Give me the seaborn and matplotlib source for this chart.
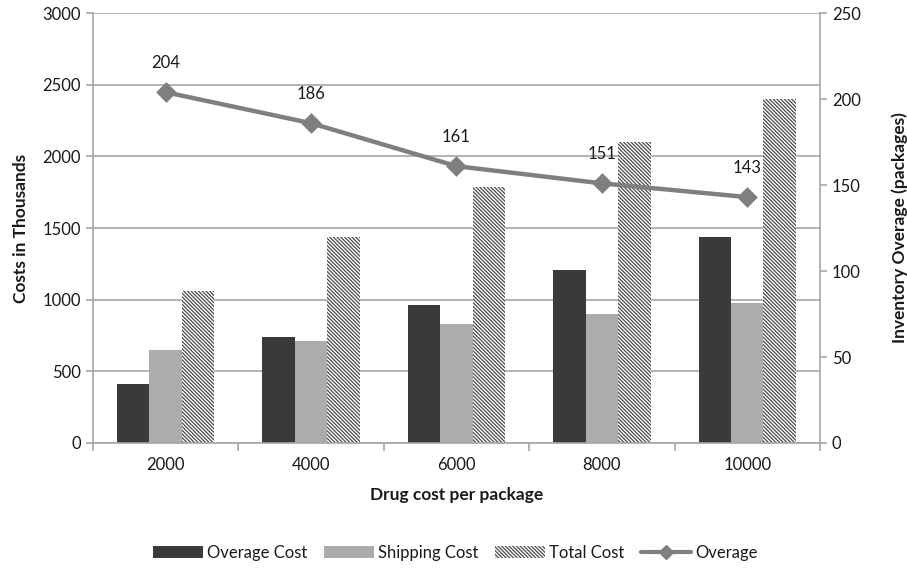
import matplotlib
matplotlib.use("Agg")
import matplotlib.pyplot as plt
from matplotlib.lines import Line2D
from matplotlib.patches import Patch
import seaborn as sns
import pandas as pd
import numpy as np

# Data
drug_cost = ["2000", "4000", "6000", "8000", "10000"]
overage_cost = [410, 740, 965, 1210, 1435]
shipping_cost = [650, 710, 830, 900, 980]
total_cost = [1060, 1440, 1790, 2100, 2400]
overage_packages = [204, 186, 161, 151, 143]

series_names = ["Overage Cost", "Shipping Cost", "Total Cost"]

sns.set_theme(style="white")
plt.rcParams["font.family"] = ["Lato", "DejaVu Sans"]
plt.rcParams["hatch.linewidth"] = 0.9

DARK = "#3a3a3a"
LIGHT = "#acacac"
LINE = "#7f7f7f"
GRID = "#a6a6a6"
TXT = "#1a1a1a"
HATCH = "\\" * 9

bars = pd.DataFrame({
    "drug": drug_cost * 3,
    "series": [s for s in series_names for _ in drug_cost],
    "cost": overage_cost + shipping_cost + total_cost,
})
line_df = pd.DataFrame({"drug": drug_cost, "overage": overage_packages})

fig = plt.figure(figsize=(9.07, 5.71), dpi=100)
ax = fig.add_axes([0.1025, 0.2242, 0.8015, 0.7528])

sns.barplot(data=bars, x="drug", y="cost", hue="series", order=drug_cost,
            hue_order=series_names, palette=[DARK, LIGHT, "white"],
            width=0.67, saturation=1, linewidth=0, ax=ax, legend=False)

for patch in ax.containers[2]:
    patch.set_facecolor("white")
    patch.set_edgecolor("#4a4a4a")
    patch.set_hatch(HATCH)
    patch.set_linewidth(0)

ax.set_ylim(0, 3000)
ax.set_yticks(np.arange(0, 3001, 500))
ax.set_xlim(-0.5, 4.5)
ax.grid(axis="y", color=GRID, linewidth=1.2)
ax.set_axisbelow(True)
for side in ["top", "right"]:
    ax.spines[side].set_visible(False)
for side in ["left", "bottom"]:
    ax.spines[side].set_color(GRID)
    ax.spines[side].set_linewidth(1.2)

ax.tick_params(axis="y", which="major", direction="out", length=5, width=1.2,
               color=GRID, labelsize=12, labelcolor=TXT, left=True)
ax.tick_params(axis="x", which="major", length=0, labelsize=12,
               labelcolor=TXT, pad=10)
ax.set_xticks(np.arange(-0.5, 5, 1.0), minor=True)
ax.tick_params(axis="x", which="minor", direction="out", length=6, width=1.2,
               color=GRID, bottom=True)

ax.set_xlabel("Drug cost per package", fontsize=12.5, fontweight="bold",
              color=TXT, labelpad=10)
ax.set_ylabel("Costs in Thousands", fontsize=12.5, fontweight="bold",
              color=TXT, labelpad=10)

ax2 = ax.twinx()
sns.pointplot(data=line_df, x="drug", y="overage", order=drug_cost,
              color=LINE, markers="D", markersize=8, linewidth=3.2, ax=ax2)
ax2.set_xlim(-0.5, 4.5)
ax2.set_ylim(0, 250)
ax2.set_yticks(np.arange(0, 251, 50))
ax2.set_xlabel("")
for side in ["top", "left", "bottom"]:
    ax2.spines[side].set_visible(False)
ax2.spines["right"].set_color(GRID)
ax2.spines["right"].set_linewidth(1.2)
ax2.tick_params(axis="y", direction="out", length=5, width=1.2, color=GRID,
                labelsize=12, labelcolor=TXT, right=True)
ax2.set_ylabel("Inventory Overage (packages)", fontsize=12.5, fontweight="bold",
               color=TXT, labelpad=22)

for i, v in enumerate(overage_packages):
    ax2.annotate(str(v), (i, v), xytext=(0, 21), textcoords="offset points",
                 ha="center", va="center", fontsize=12, color=TXT)

handles = [
    Patch(facecolor=DARK, edgecolor="none"),
    Patch(facecolor=LIGHT, edgecolor="none"),
    Patch(facecolor="white", edgecolor="#4a4a4a", hatch=HATCH, linewidth=0),
    Line2D([], [], color=LINE, linewidth=3, marker="D", markersize=7),
]
fig.legend(handles, ["Overage Cost", "Shipping Cost", "Total Cost", "Overage"],
           loc="center", bbox_to_anchor=(0.502, 0.032), ncol=4, frameon=False,
           fontsize=12, handlelength=3.0, handleheight=0.8, handletextpad=0.25,
           columnspacing=1.0, labelcolor=TXT)

fig.savefig("out.png", dpi=100, facecolor="white")
